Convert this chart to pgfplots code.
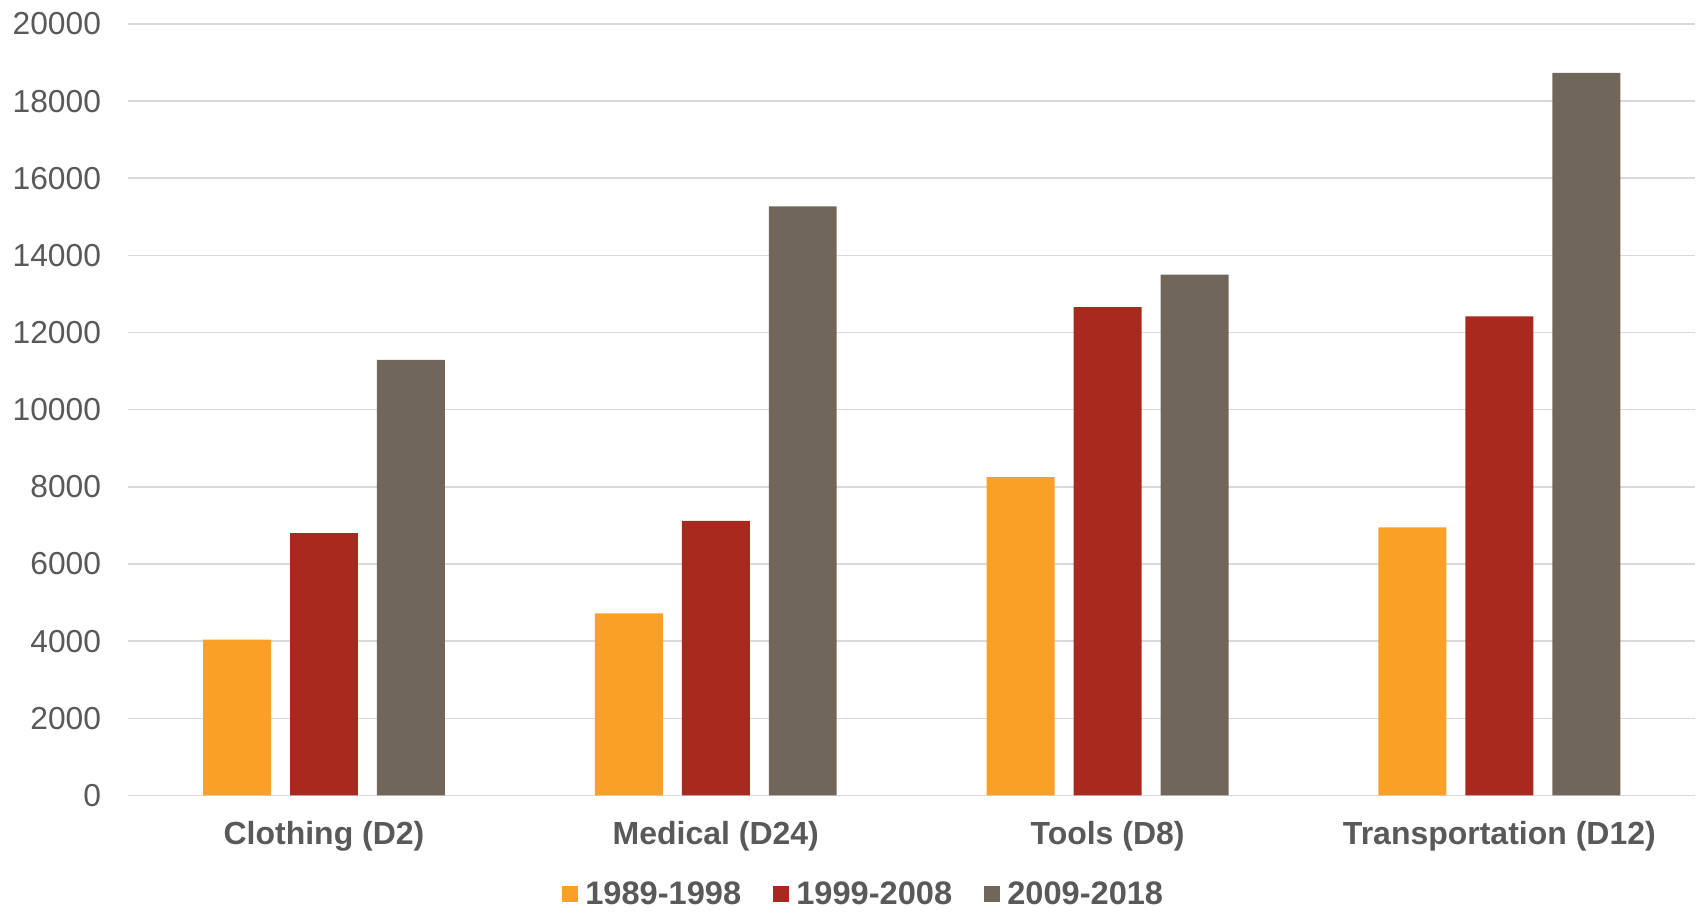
\documentclass[border={3pt 0pt 0pt 3pt}]{standalone}
\usepackage{fontspec}
\setmainfont{Liberation Sans}
\usepackage{pgfplots}
\pgfplotsset{compat=1.18}
\definecolor{corange}{HTML}{FBA026}
\definecolor{cred}{HTML}{A9291F}
\definecolor{cgray}{HTML}{70675A}
\definecolor{gridc}{HTML}{D9D9D9}
\definecolor{textc}{HTML}{595959}
\begin{document}
\begin{tikzpicture}
\begin{axis}[
    scale only axis, width=784pt, height=386pt,
    ymin=0, ymax=20000, xmin=-0.5, xmax=3.5,
    ytick={0,2000,...,20000},
    ymajorgrids, grid style={color=gridc, line width=0.75pt},
    axis line style={draw=none}, tick style={draw=none},
    xtick={0,1,2,3},
    xticklabels={Clothing (D2),Medical (D24),Tools (D8),Transportation (D12)},
    x tick label style={font=\bfseries\fontsize{16}{19}\selectfont, text=textc, yshift=-5pt},
    y tick label style={font=\fontsize{15.9}{18}\selectfont, text=textc, xshift=-10pt},
    /pgf/number format/assume math mode=true,
    /pgf/number format/set thousands separator={},
    scaled y ticks=false,
    ybar=9.5pt, bar width=34pt,
    legend columns=3,
    legend style={at={(axis description cs:0.47,-0.128)}, anchor=center, draw=none,
        font=\bfseries\fontsize{16.3}{19}\selectfont, text=textc,
        /tikz/every odd column/.append style={column sep=0pt},
        /tikz/every even column/.append style={column sep=14pt}},
    legend image code/.code={\fill[#1] (0pt,-4pt) rectangle (8pt,4pt); \path (9.6pt,0pt);},
]
\addplot[fill=corange, draw=none] coordinates {(0,4040) (1,4720) (2,8250) (3,6950)};
\addplot[fill=cred, draw=none] coordinates {(0,6800) (1,7120) (2,12660) (3,12420)};
\addplot[fill=cgray, draw=none] coordinates {(0,11290) (1,15270) (2,13500) (3,18730)};
\legend{1989-1998,1999-2008,2009-2018}
\end{axis}
\end{tikzpicture}
\end{document}
